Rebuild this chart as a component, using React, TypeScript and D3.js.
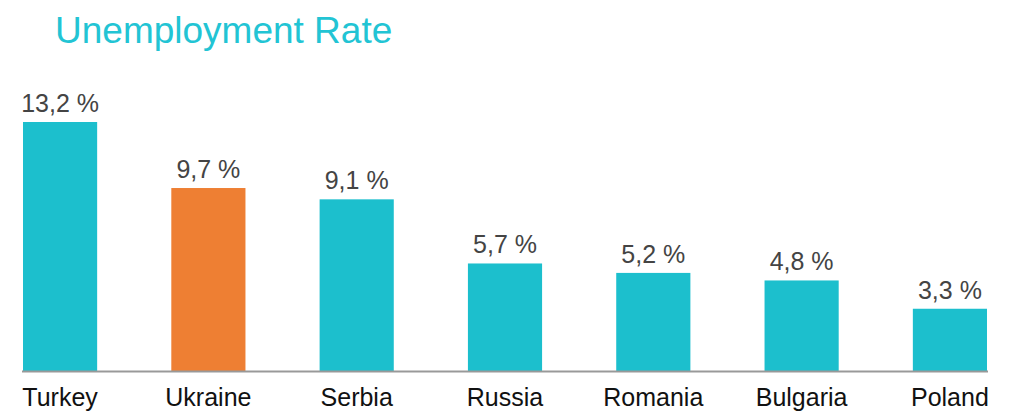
import React from "react";
import * as d3 from "d3";

const categories = ["Turkey", "Ukraine", "Serbia", "Russia", "Romania", "Bulgaria", "Poland"];
const values = [13.2, 9.7, 9.1, 5.7, 5.2, 4.8, 3.3];
const highlight = ["Ukraine"];

const W = 1012;
const H = 420;
const TEAL = "#1cbfcd";
const ORANGE = "#ee7f33";
const FONT = "'Liberation Sans', Arial, Helvetica, sans-serif";

export default function App() {
  const x = d3.scaleBand<string>().domain(categories).range([23, 987]).paddingInner(0.5).paddingOuter(0);
  const y = d3.scaleLinear().domain([0, 13.2]).range([371, 122]);
  const fmt = (v: number) => v.toFixed(1).replace(".", ",") + " %";

  return (
    <svg width={W} height={H} style={{ position: "absolute", left: 0, top: 0, background: "#fff" }} fontFamily={FONT}>
      <text x={55} y={43} fontSize={37} fill="#22c4d4">Unemployment Rate</text>
      {categories.map((c, i) => {
        const v = values[i];
        const bx = x(c)!;
        const bw = x.bandwidth();
        return (
          <g key={c}>
            <rect x={bx} y={y(v)} width={bw} height={y(0) - y(v)} fill={highlight.includes(c) ? ORANGE : TEAL} />
            <text x={bx + bw / 2} y={y(v) - 10} fontSize={25} fill="#444" textAnchor="middle">{fmt(v)}</text>
            <text x={bx + bw / 2} y={406} fontSize={25} fill="#111" textAnchor="middle">{c}</text>
          </g>
        );
      })}
      <line x1={22} x2={988} y1={371.5} y2={371.5} stroke="#999" strokeWidth={2} />
    </svg>
  );
}
